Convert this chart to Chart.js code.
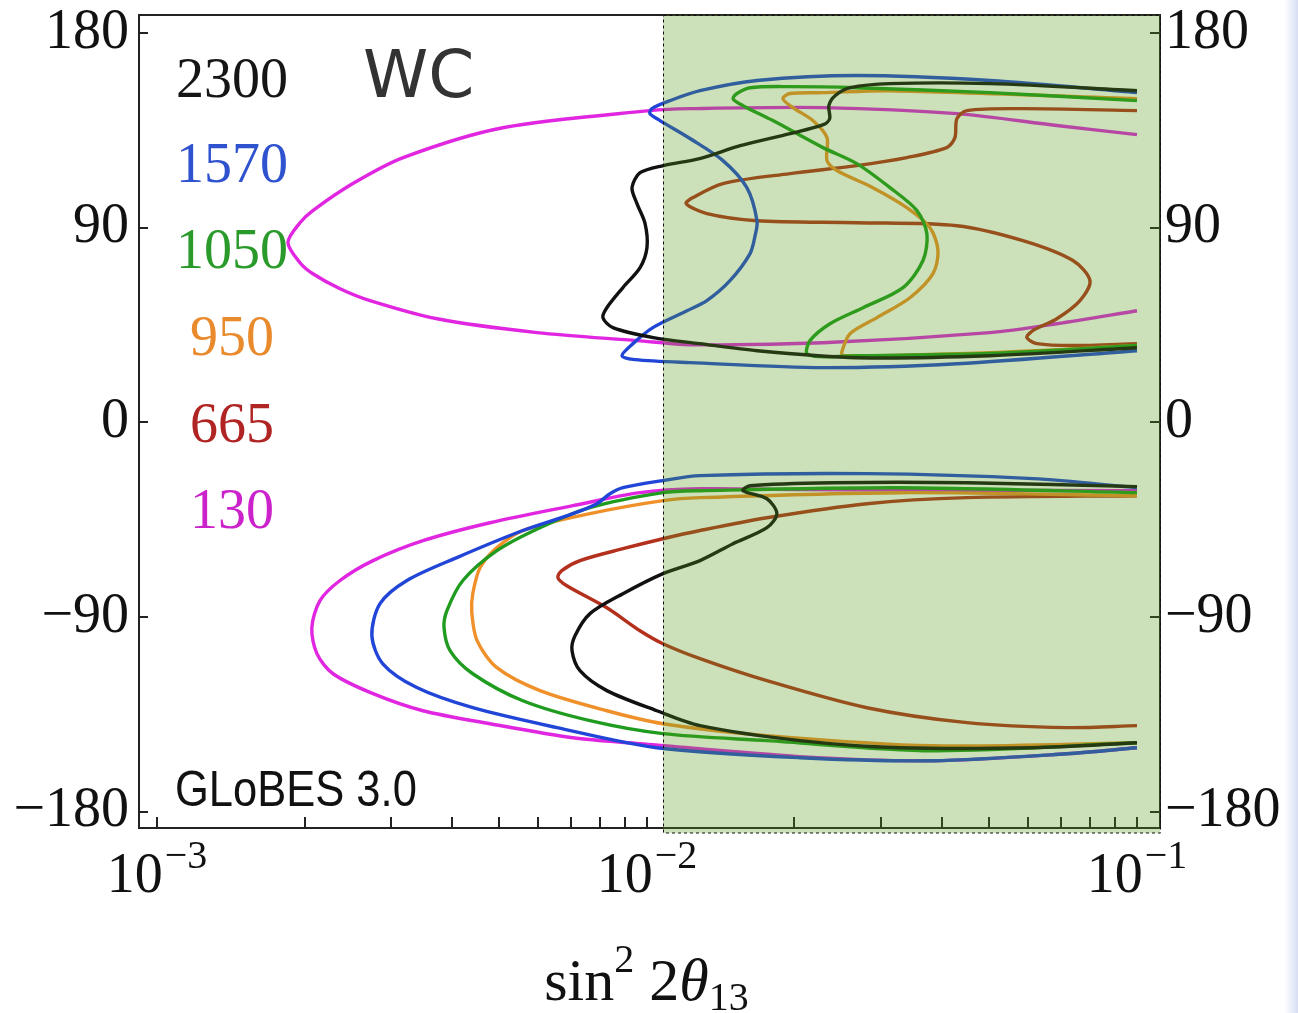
<!DOCTYPE html>
<html><head><meta charset="utf-8">
<script src="https://cdn.jsdelivr.net/npm/chart.js@4.4.1/dist/chart.umd.min.js"></script>
<style>
html,body{margin:0;padding:0;background:#fff;width:1298px;height:1013px;overflow:hidden}
#wrap{position:relative;width:1298px;height:1013px}
#edge{position:absolute;left:1284px;top:0;width:14px;height:1013px;background:linear-gradient(to right,rgba(255,255,255,0),rgba(190,202,236,0.6))}
</style>
</head><body>
<div id="wrap"><canvas id="c" width="1298" height="1013"></canvas><div id="edge"></div></div>
<script>
// ---- data: sin^2 2theta13 (x) and delta_CP in degrees (y) ----
const baselines = ['2300', '1570', '1050', '950', '665', '130'];
const xMajorTicks = [0.001, 0.01, 0.1];
const xMajorLabels = ['−3', '−2', '−1'];
const xMinorTicks = [0.002,0.003,0.004,0.005,0.006,0.007,0.008,0.009,0.02,0.03,0.04,0.05,0.06,0.07,0.08,0.09];
const yTicks = [-180, -90, 0, 90, 180];
const shadeFrom = 0.0108;

// 2300 km
const x2300Up = [0.1,0.0501,0.0313,0.0260,0.0242,0.0235,0.0236,0.0229,0.0196,0.0155,0.0128,0.0108,0.00968,0.00932,0.00954,0.00991,0.0100,0.00968,0.00893,0.00828,0.00813,0.00852,0.0103,0.0128,0.0168,0.0268,0.0501,0.1];
const d2300Up = [153.3,156.6,156.6,154.7,151.0,146.4,140.4,137.6,133.5,127.9,121.9,118.7,115.4,108.5,101.1,91.9,80.8,71.5,62.3,53.0,48.4,43.8,39.2,36.4,33.1,29.9,30.8,34.5];
const x2300Lo = [0.1,0.045,0.02396,0.01623,0.0157,0.01757,0.01841,0.01757,0.01498,0.01283,0.01078,0.00893,0.00765,0.00713,0.00703,0.007299,0.00828,0.01047,0.01283,0.02052,0.03284,0.0613,0.1];
const d2300Lo = [-29.7,-27.9,-27.9,-29.3,-31.6,-35.3,-42.2,-48.7,-56.1,-63.9,-69.9,-79.2,-88.4,-98.6,-105.5,-114.8,-124.0,-133.3,-140.2,-147.1,-150.4,-150.4,-148.1];
// 1570 km
const x1570Up = [0.1,0.0501,0.0268,0.01677,0.01283,0.01114,0.01023,0.01014,0.01063,0.01224,0.01429,0.01599,0.01677,0.01662,0.01623,0.01477,0.01325,0.01207,0.01028,0.00936,0.00889,0.00945,0.01224,0.02287,0.0429,0.1];
const d1570Up = [152.4,158.0,160.3,158.0,153.3,148.7,145.0,142.7,139.5,131.2,121.0,108.5,93.2,86.3,78.0,65.5,56.3,51.6,43.8,36.4,30.8,29.0,27.6,25.3,27.1,33.1];
const x1570Lo = [0.1,0.0613,0.0281,0.01283,0.01078,0.00893,0.008404,0.0079,0.00706,0.00558,0.004094,0.003237,0.002852,0.002745,0.00289,0.00339,0.00441,0.00655,0.01047,0.02052,0.03834,0.0719,0.1];
const d1570Lo = [-30.2,-26.0,-23.7,-24.6,-26.9,-30.2,-33.0,-37.6,-42.2,-50.0,-62.5,-73.1,-83.8,-98.6,-111.6,-122.6,-131.9,-141.1,-150.4,-155.0,-156.4,-153.2,-150.4];
// 1050 km
const x1050Up = [0.1,0.0501,0.0268,0.01958,0.01623,0.01526,0.01498,0.0157,0.01807,0.02287,0.0268,0.03133,0.03555,0.03726,0.03658,0.0333,0.0276,0.02363,0.02151,0.0212,0.02255,0.0268,0.0501,0.1];
const d1050Up = [148.7,152.4,154.7,155.2,154.7,152.0,149.6,146.4,139.5,127.0,119.6,108.5,97.9,87.2,74.8,62.3,53.0,45.6,37.8,31.8,30.4,30.8,31.8,35.5];
const x1050Lo = [0.1,0.03284,0.01283,0.01078,0.00765,0.006048,0.00494,0.00421,0.003906,0.003853,0.003963,0.00441,0.00558,0.00765,0.01078,0.01757,0.03834,0.1];
const d1050Lo = [-32.5,-30.2,-31.6,-32.5,-39.4,-48.7,-59.3,-73.1,-87.0,-94.9,-105.5,-116.2,-128.7,-137.9,-143.9,-147.1,-151.8,-148.1];
// 950 km
const x950Up = [0.1,0.03133,0.02287,0.01958,0.01894,0.01985,0.0218,0.0233,0.0233,0.0244,0.0289,0.0339,0.03781,0.03925,0.03834,0.03441,0.02946,0.02596,0.025,0.0251,0.0501,0.1];
const d950Up = [149.6,153.3,152.4,152.0,149.6,145.5,139.5,131.6,121.0,116.4,108.5,99.3,90.0,79.4,68.7,57.6,48.4,41.0,32.8,30.8,32.2,35.5];
const x950Lo = [0.1,0.03284,0.01283,0.01078,0.00765,0.00558,0.00494,0.004563,0.00441,0.00439,0.0045,0.00494,0.006048,0.00828,0.01078,0.01757,0.03834,0.1];
const d950Lo = [-33.9,-32.5,-34.8,-36.2,-42.2,-50.0,-57.9,-67.2,-79.2,-88.0,-100.9,-113.4,-124.0,-133.3,-139.3,-144.8,-149.5,-148.1];
// 665 km
const x665Up = [0.1,0.0585,0.045,0.0429,0.0425,0.0409,0.0339,0.0268,0.01958,0.01429,0.01241,0.01202,0.01325,0.01677,0.0268,0.0429,0.0585,0.074,0.08017,0.0765,0.0686,0.0613,0.0596,0.0625,0.074,0.1];
const d665Up = [144.1,145.0,144.1,140.4,131.6,127.0,122.4,118.7,115.0,110.4,103.9,101.1,96.5,93.2,92.3,90.9,84.0,74.8,65.5,56.3,47.9,42.4,39.2,36.4,35.5,36.4];
const x665Lo = [0.1,0.045,0.0281,0.01757,0.01283,0.01078,0.00893,0.007299,0.0067,0.00658,0.00686,0.00828,0.009676,0.01078,0.01283,0.01757,0.0281,0.045,0.0719,0.1];
const d665Lo = [-33.9,-34.8,-37.6,-44.1,-50.0,-53.8,-58.4,-63.9,-68.5,-71.8,-75.5,-85.7,-96.3,-102.3,-109.2,-119.4,-131.9,-138.8,-141.1,-140.2];
// 130 km
const x130Up = [0.1,0.0686,0.0429,0.02287,0.01224,0.01014,0.00508,0.00318,0.00251,0.00208,0.001958,0.00185,0.001958,0.00208,0.002363,0.002721,0.00373,0.00596,0.00954,0.01224,0.02287,0.0501,0.0686,0.1];
const d130Up = [133.0,137.2,142.7,145.5,145.0,144.1,136.2,122.4,110.4,97.9,92.3,83.1,73.8,68.7,61.8,56.3,47.9,41.5,37.8,35.9,36.8,41.5,45.6,51.6];
const x130Lo = [0.1,0.02052,0.01283,0.009676,0.00706,0.004782,0.00349,0.00276,0.002363,0.002151,0.00207,0.00212,0.002287,0.00276,0.00349,0.004782,0.00706,0.009676,0.02052,0.03834,0.0719,0.1];
const d130Lo = [-31.6,-31.1,-30.7,-32.5,-38.5,-46.4,-54.7,-63.9,-73.1,-82.4,-94.9,-106.9,-116.2,-125.4,-133.3,-139.3,-145.8,-148.5,-154.5,-156.4,-153.2,-150.4];

// ---- styles ----
const lineColors = {'2300':'#111111','1570':'#2145d6','1050':'#1f9c1f','950':'#f0902a','665':'#b3301c','130':'#e026e0'};
const labelColors = {'2300':'#151515','1570':'#2f52cf','1050':'#2a9a2a','950':'#e98a2c','665':'#b02424','130':'#cc22cc'};

const curveSets = [
  ['2300', x2300Up, d2300Up], ['2300', x2300Lo, d2300Lo],
  ['1570', x1570Up, d1570Up], ['1570', x1570Lo, d1570Lo],
  ['1050', x1050Up, d1050Up], ['1050', x1050Lo, d1050Lo],
  ['950', x950Up, d950Up], ['950', x950Lo, d950Lo],
  ['665', x665Up, d665Up], ['665', x665Lo, d665Lo],
  ['130', x130Up, d130Up], ['130', x130Lo, d130Lo]
];

const datasets = curveSets.map(([lab, xs, ys]) => ({
  label: lab,
  data: xs.map((v, i) => ({x: v, y: ys[i]})),
  showLine: true, pointRadius: 0, borderWidth: 3.4, tension: 0.3,
  borderColor: lineColors[lab], fill: false
}));

const serif = '"Liberation Serif", "Times New Roman", serif';
const fmtDeg = v => v < 0 ? '−' + Math.abs(v) : String(v);
const noPad = s => { s.paddingTop = 0; s.paddingBottom = 0; s.paddingLeft = 0; s.paddingRight = 0; };

const decorPlugin = {
  id: 'decor',
  afterDatasetsDraw(chart) {
    const {ctx, chartArea: a, scales: {x, y}} = chart;
    ctx.save();
    ctx.strokeStyle = '#222'; ctx.lineWidth = 2;
    ctx.beginPath();
    xMajorTicks.concat(xMinorTicks).forEach(v => {
      const px = Math.round(x.getPixelForValue(v));
      ctx.moveTo(px, a.bottom); ctx.lineTo(px, a.bottom - 11);
    });
    yTicks.forEach(v => {
      const py = Math.round(y.getPixelForValue(v));
      ctx.moveTo(a.left, py); ctx.lineTo(a.left + 9, py);
      ctx.moveTo(a.right, py); ctx.lineTo(a.right - 10, py);
    });
    ctx.stroke();
    ctx.strokeRect(a.left, a.top, a.right - a.left, a.bottom - a.top);
    const sx = Math.round(x.getPixelForValue(shadeFrom));
    ctx.fillStyle = 'rgba(85,152,28,0.3)';
    ctx.fillRect(sx, a.top, a.right - sx, a.bottom + 5 - a.top);
    ctx.setLineDash([3, 3]); ctx.lineWidth = 1; ctx.strokeStyle = '#111';
    ctx.strokeRect(sx + 0.5, a.top + 0.5, a.right - sx, a.bottom + 4.5 - a.top);
    ctx.restore();
  },
  afterDraw(chart) {
    const {ctx, chartArea: a, scales: {x}} = chart;
    ctx.save();
    ctx.fillStyle = '#111';
    ctx.textBaseline = 'alphabetic';
    // x tick labels 10^n
    xMajorTicks.forEach((v, i) => {
      const px = x.getPixelForValue(v);
      ctx.font = '56px ' + serif;
      const w1 = ctx.measureText('10').width;
      ctx.font = '40px ' + serif;
      const w2 = ctx.measureText(xMajorLabels[i]).width;
      const start = px - (w1 + w2 + 2) / 2;
      ctx.font = '56px ' + serif;
      ctx.textAlign = 'left';
      ctx.fillText('10', start, 892);
      ctx.font = '40px ' + serif;
      ctx.fillText(xMajorLabels[i], start + w1 + 2, 868);
    });
    // x axis title: sin^2 2θ13
    const parts = [
      {t: 'sin', f: '60px ' + serif, dy: 0},
      {t: '2', f: '40px ' + serif, dy: -28},
      {t: ' ', f: '60px ' + serif, dy: 0},
      {t: '2', f: '60px ' + serif, dy: 0},
      {t: 'θ', f: 'italic 60px ' + serif, dy: 0},
      {t: '13', f: '40px ' + serif, dy: 10}
    ];
    let total = 0;
    parts.forEach(p => { ctx.font = p.f; p.w = ctx.measureText(p.t).width; total += p.w; });
    let cx = (a.left + a.right) / 2 - total / 2 - 3;
    ctx.textAlign = 'left';
    parts.forEach(p => { ctx.font = p.f; ctx.fillText(p.t, cx, 1000 + p.dy); cx += p.w; });
    // baseline legend
    ctx.textAlign = 'center';
    ctx.font = '56px ' + serif;
    const legendBase = [97, 182, 268, 355, 442, 528];
    baselines.forEach((b, i) => {
      ctx.fillStyle = labelColors[b];
      ctx.fillText(b, 232, legendBase[i]);
    });
    // WC
    ctx.textAlign = 'left';
    ctx.fillStyle = '#333';
    ctx.font = '66px "DejaVu Sans", sans-serif';
    ctx.fillText('WC', 363, 97);
    // GLoBES 3.0
    ctx.fillStyle = '#111';
    ctx.translate(175, 806);
    ctx.scale(1, 1.14);
    ctx.font = '43.5px "Liberation Sans", Arial, sans-serif';
    ctx.fillText('GLoBES 3.0', 0, 0);
    ctx.restore();
  }
};

new Chart(document.getElementById('c'), {
  type: 'scatter',
  data: {datasets},
  options: {
    responsive: false, animation: false, devicePixelRatio: 1,
    layout: {padding: {top: 15, left: 0, right: 0, bottom: 0}},
    plugins: {legend: {display: false}, tooltip: {enabled: false}},
    scales: {
      x: {
        type: 'logarithmic', position: 'bottom', min: 9.189e-4, max: 0.11142,
        afterBuildTicks: s => { s.ticks = xMajorTicks.map(v => ({value: v})); },
        afterFit: s => { s.height = 185; noPad(s); },
        ticks: {display: false}, grid: {display: false}, border: {display: false}
      },
      y: {
        type: 'linear', position: 'left', min: -187.5, max: 188.3,
        afterBuildTicks: s => { s.ticks = yTicks.map(v => ({value: v})); },
        afterFit: s => { s.width = 139; noPad(s); },
        ticks: {color: '#111', padding: 10, font: {family: serif, size: 56}, callback: fmtDeg},
        grid: {display: false, drawTicks: false}, border: {display: false}
      },
      y2: {
        type: 'linear', position: 'right', min: -187.5, max: 188.3,
        afterBuildTicks: s => { s.ticks = yTicks.map(v => ({value: v})); },
        afterFit: s => { s.width = 138; noPad(s); },
        ticks: {color: '#111', padding: 5, font: {family: serif, size: 56}, callback: fmtDeg},
        grid: {display: false, drawTicks: false}, border: {display: false}
      }
    }
  },
  plugins: [decorPlugin]
});
</script>
</body></html>
